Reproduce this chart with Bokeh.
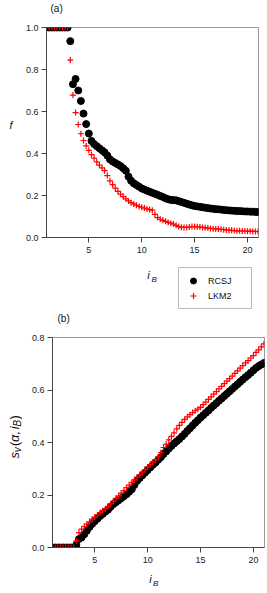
from bokeh.plotting import figure
from bokeh.models import Range1d, FixedTicker, PrintfTickFormatter, Label, Legend, LegendItem
from bokeh.layouts import column, row
from bokeh.embed import file_html
from bokeh.resources import INLINE
import math

# ---------------- data ----------------
i_b = [1.0, 1.25, 1.5, 1.75, 2.0, 2.25, 2.5, 2.75, 3.0, 3.25, 3.5, 3.75,
       4.0, 4.25, 4.5, 4.75, 5.0, 5.25, 5.5, 5.75, 6.0, 6.25, 6.5, 6.75,
       7.0, 7.25, 7.5, 7.75, 8.0, 8.25, 8.5, 8.75, 9.0, 9.25, 9.5, 9.75,
       10.0, 10.25, 10.5, 10.75, 11.0, 11.25, 11.5, 11.75, 12.0, 12.25, 12.5, 12.75,
       13.0, 13.25, 13.5, 13.75, 14.0, 14.25, 14.5, 14.75, 15.0, 15.25, 15.5, 15.75,
       16.0, 16.25, 16.5, 16.75, 17.0, 17.25, 17.5, 17.75, 18.0, 18.25, 18.5, 18.75,
       19.0, 19.25, 19.5, 19.75, 20.0, 20.25, 20.5, 20.75, 21.0]

f_rcsj = [1.0, 1.0, 1.0, 1.0, 1.0, 1.0, 1.0, 1.0, 1.0, 0.935, 0.73, 0.755,
          0.70, 0.65, 0.59, 0.54, 0.495, 0.46, 0.445, 0.435, 0.425, 0.415, 0.405, 0.39,
          0.372, 0.362, 0.355, 0.348, 0.34, 0.33, 0.318, 0.29, 0.27, 0.258, 0.25, 0.242,
          0.234, 0.228, 0.223, 0.218, 0.213, 0.208, 0.203, 0.198, 0.193, 0.187, 0.182, 0.179,
          0.178, 0.177, 0.173, 0.169, 0.165, 0.161, 0.157, 0.153, 0.150, 0.148, 0.146, 0.144,
          0.142, 0.140, 0.138, 0.137, 0.135, 0.134, 0.133, 0.131, 0.130, 0.129, 0.128, 0.127,
          0.126, 0.126, 0.125, 0.124, 0.124, 0.123, 0.123, 0.122, 0.121]

f_lkm2 = [1.0, 1.0, 1.0, 1.0, 1.0, 1.0, 1.0, 1.0, 1.0, 0.845, 0.678, 0.595,
          0.538, 0.494, 0.462, 0.436, 0.415, 0.395, 0.378, 0.36, 0.345, 0.332, 0.318, 0.295,
          0.27, 0.252, 0.235, 0.22, 0.207, 0.195, 0.184, 0.174, 0.166, 0.16, 0.154, 0.148,
          0.144, 0.14, 0.136, 0.133, 0.13, 0.11, 0.095, 0.087, 0.082, 0.077, 0.072, 0.068,
          0.064, 0.058, 0.052, 0.049, 0.048, 0.048, 0.05, 0.052, 0.052, 0.051, 0.05, 0.048,
          0.046, 0.045, 0.043, 0.042, 0.041, 0.04, 0.039, 0.037, 0.036, 0.035, 0.034, 0.033,
          0.032, 0.032, 0.031, 0.031, 0.030, 0.030, 0.029, 0.029, 0.028]

sv_rcsj = [0.0, 0.0, 0.0, 0.0, 0.0, 0.0, 0.0, 0.0, 0.0, 0.01, 0.032, 0.038,
           0.05, 0.064, 0.078, 0.09, 0.1, 0.11, 0.12, 0.128, 0.136, 0.144, 0.155, 0.165,
           0.172, 0.18, 0.188, 0.195, 0.203, 0.212, 0.222, 0.238, 0.254, 0.265, 0.275, 0.285,
           0.295, 0.305, 0.315, 0.324, 0.334, 0.344, 0.356, 0.366, 0.377, 0.387, 0.396, 0.405,
           0.413, 0.423, 0.433, 0.444, 0.454, 0.465, 0.475, 0.485, 0.495, 0.504, 0.513, 0.522,
           0.532, 0.541, 0.55, 0.559, 0.568, 0.577, 0.586, 0.595, 0.604, 0.613, 0.622, 0.631,
           0.64, 0.649, 0.657, 0.666, 0.675, 0.684, 0.691, 0.697, 0.703]

sv_lkm2 = [0.0, 0.0, 0.0, 0.0, 0.0, 0.0, 0.0, 0.0, 0.0, 0.025, 0.057, 0.07,
           0.08, 0.089, 0.098, 0.108, 0.116, 0.124, 0.133, 0.14, 0.148, 0.156, 0.166, 0.177,
           0.187, 0.197, 0.207, 0.217, 0.228, 0.238, 0.248, 0.258, 0.268, 0.277, 0.287, 0.297,
           0.307, 0.316, 0.325, 0.334, 0.345, 0.362, 0.381, 0.393, 0.41, 0.423, 0.437, 0.452,
           0.465, 0.477, 0.488, 0.498, 0.506, 0.514, 0.521, 0.527, 0.534, 0.544, 0.554, 0.564,
           0.574, 0.584, 0.594, 0.604, 0.614, 0.624, 0.634, 0.643, 0.653, 0.663, 0.673, 0.683,
           0.693, 0.703, 0.712, 0.722, 0.731, 0.743, 0.753, 0.764, 0.776]

x_ticks = [5, 10, 15, 20]
f_ticks = [0.0, 0.2, 0.4, 0.6, 0.8, 1.0]
sv_ticks = [0.0, 0.2, 0.4, 0.6, 0.8]
series_names = ["RCSJ", "LKM2"]

FONT = "Liberation Sans"
W = 267


def style(p):
    p.grid.visible = False
    p.background_fill_color = "white"
    p.border_fill_color = "white"
    p.outline_line_color = "#9a9a9a"
    p.outline_line_width = 1
    for ax in p.axis:
        ax.axis_line_color = "#444444"
        ax.major_tick_line_color = "#444444"
        ax.major_tick_in = 0
        ax.major_tick_out = 5
        ax.minor_tick_line_color = None
        ax.major_label_text_font = FONT
        ax.major_label_text_font_size = "9px"
        ax.major_label_text_color = "#222222"
    for ax in p.xaxis:
        ax.major_label_standoff = 4
    for ax in p.yaxis:
        ax.major_label_standoff = 3
        ax.formatter = PrintfTickFormatter(format="%.1f")


def text_fig(w, h, x0, y0):
    # a plain figure whose whole area is its frame; data units = page pixels
    t = figure(width=w, height=h, x_range=Range1d(x0, x0 + w), y_range=Range1d(y0 + h, y0),
               x_axis_location=None, y_axis_location=None, output_backend="svg",
               toolbar_location=None, min_border=0, min_border_left=0, min_border_right=0,
               min_border_top=0, min_border_bottom=0)
    t.grid.visible = False
    t.outline_line_color = None
    t.background_fill_color = "white"
    t.border_fill_color = "white"
    return t


def add_label(p, x, y, text, size, italic=False, align="left", baseline="middle", angle=0.0):
    p.add_layout(Label(x=x, y=y, text=text, text_font=FONT, text_font_size=size,
                       text_font_style="italic" if italic else "normal",
                       text_align=align, text_baseline=baseline, angle=angle,
                       text_color="#111111"))


# ---------------- strip with "(a)" ----------------
s0 = text_fig(W, 20, 0, 0)
add_label(s0, 50, 8, "(a)", "10px")

# ---------------- panel (a) ----------------
l1 = text_fig(20, 238, 0, 20)
add_label(l1, 10.5, 131, "f", "11px", italic=True, align="center")

p1 = figure(width=247, height=238, x_range=Range1d(1, 21.04), y_range=Range1d(0, 1.0),
            output_backend="svg", toolbar_location=None,
            min_border_left=26, min_border_right=9, min_border_top=7, min_border_bottom=21)
style(p1)
p1.xaxis.ticker = FixedTicker(ticks=x_ticks)
p1.yaxis.ticker = FixedTicker(ticks=f_ticks)
p1.scatter(i_b, f_rcsj, marker="circle", size=7, fill_color="black", line_color="black")
p1.scatter(i_b, f_lkm2, marker="cross", size=6, line_color="red", line_width=1.2)

# ---------------- middle strip: x label of (a), legend, "(b)" ----------------
s1 = text_fig(W, 72, 0, 258)
add_label(s1, 148, 274, "i", "11px", italic=True, align="center")
add_label(s1, 151, 279, "B", "8px", italic=True)
add_label(s1, 57, 318, "(b)", "10px")

# legend glyph sources: the same series, which fall outside this strip's view
g1 = s1.scatter(i_b, f_rcsj, marker="circle", fill_color="black", line_color="black")
g2 = s1.scatter(i_b, f_lkm2, marker="cross", line_color="red", line_width=1.2)
legend = Legend(items=[LegendItem(label=series_names[0], renderers=[g1]),
                       LegendItem(label=series_names[1], renderers=[g2])],
                location=(178, 21), margin=0, padding=5, spacing=0,
                glyph_width=18, glyph_height=15, label_height=15, label_width=38,
                label_standoff=6, border_line_color="#777777", border_line_width=1,
                background_fill_color="white", background_fill_alpha=1.0,
                label_text_font=FONT, label_text_font_size="9px", label_text_color="#111111",
                label_text_baseline="middle")
s1.add_layout(legend)

# ---------------- panel (b) ----------------
l2 = text_fig(22, 238, 0, 330)
main_bx = 14.0
sub_bx = 16.5
pieces = [
    ("s", 467.0, main_bx, "13px", True),
    ("v", 460.0, sub_bx, "10px", True),
    ("(", 453.0, main_bx, "13px", False),
    ("α", 448.5, main_bx, "13px", True),
    (",", 440.5, main_bx, "13px", False),
    ("i", 434.0, main_bx, "13px", True),
    ("B", 431.0, sub_bx, "10px", True),
    (")", 423.0, main_bx, "13px", False),
]
for txt, py, px, size, it in pieces:
    add_label(l2, px, py, txt, size, italic=it, align="left", baseline="alphabetic",
              angle=math.pi / 2)

p2 = figure(width=245, height=238, x_range=Range1d(1, 21.05), y_range=Range1d(0, 0.8),
            output_backend="svg", toolbar_location=None,
            min_border_left=30, min_border_right=3, min_border_top=7, min_border_bottom=21)
style(p2)
p2.xaxis.ticker = FixedTicker(ticks=x_ticks)
p2.yaxis.ticker = FixedTicker(ticks=sv_ticks)
p2.scatter(i_b, sv_rcsj, marker="circle", size=7, fill_color="black", line_color="black")
p2.scatter(i_b, sv_lkm2, marker="cross", size=6, line_color="red", line_width=1.2)

# ---------------- bottom strip: x label of (b) ----------------
s2 = text_fig(W, 25, 0, 568)
add_label(s2, 150, 578, "i", "11px", italic=True, align="center")
add_label(s2, 152.5, 583, "B", "8px", italic=True)

layout = column(s0, row(l1, p1, spacing=0), s1, row(l2, p2, spacing=0), s2, spacing=0)
open("out.html", "w").write(file_html(layout, INLINE))
